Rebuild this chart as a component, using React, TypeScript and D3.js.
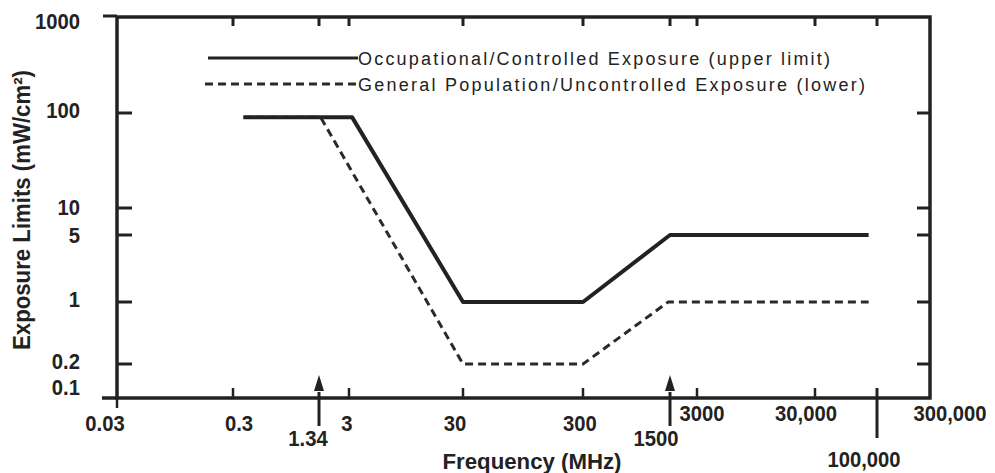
import React from "react";
import * as d3 from "d3";

// ---- data ----
const xTickValues = [0.03, 0.3, 1.34, 3, 30, 300, 1500, 3000, 30000, 100000, 300000];
const xTickLabels = ["0.03", "0.3", "1.34", "3", "30", "300", "1500", "3000", "30,000", "100,000", "300,000"];
const yTickValues = [0.1, 0.2, 1, 5, 10, 100, 1000];
const yTickLabels = ["0.1", "0.2", "1", "5", "10", "100", "1000"];

const occFreq = [0.36, 3.2, 30, 300, 1500, 85000];
const occLimit = [90, 90, 1, 1, 5, 5];
const genFreq = [0.36, 1.4, 30, 300, 1450, 85000];
const genLimit = [90, 90, 0.2, 0.2, 1, 1];

const legendLabels = [
  "Occupational/Controlled Exposure (upper limit)",
  "General Population/Uncontrolled Exposure (lower)",
];
const xTitle = "Frequency (MHz)";
const yTitle = "Exposure Limits (mW/cm²)";

const W = 995;
const H = 473;
const INK = "#222";
const FONT = "'Liberation Sans', Arial, sans-serif";

export default function App() {
  // axis as drawn in the picture (piecewise log, fitted to tick positions)
  const x = d3
    .scaleLog()
    .domain(xTickValues)
    .range([117, 233, 319, 349, 463, 583, 670, 697, 815, 877, 930]);
  const y = d3
    .scaleLog()
    .domain(yTickValues)
    .range([398, 364, 302, 235, 208, 113, 17]);

  const line = d3
    .line<[number, number]>()
    .x((d) => x(d[0]))
    .y((d) => y(d[1]));

  const occPts = occFreq.map((f, i) => [f, occLimit[i]] as [number, number]);
  const genPts = genFreq.map((f, i) => [f, genLimit[i]] as [number, number]);

  const left = x(xTickValues[0]);
  const right = x(xTickValues[xTickValues.length - 1]);
  const top = y(yTickValues[yTickValues.length - 1]);
  const bottom = y(yTickValues[0]);

  // label placement per x tick (row baseline + horizontal nudge)
  const xLabelPlace: Record<string, { dx: number; by: number }> = {
    "0.03": { dx: -12, by: 431 },
    "0.3": { dx: 6, by: 431 },
    "1.34": { dx: -11, by: 446 },
    "3": { dx: -2, by: 431 },
    "30": { dx: -8, by: 431 },
    "300": { dx: -3, by: 431 },
    "1500": { dx: -14, by: 446 },
    "3000": { dx: 5, by: 421 },
    "30,000": { dx: -9, by: 421 },
    "100,000": { dx: -13, by: 467 },
    "300,000": { dx: 20, by: 421 },
  };
  const yLabelNudge: Record<string, number> = {
    "1000": 4,
    "100": -3,
    "10": -1,
    "5": 0,
    "1": -3,
    "0.2": -3,
    "0.1": -11,
  };

  const innerBottomTicks = [0.3, 3, 30, 300, 3000, 30000];
  const topTicks = [0.3, 1.34, 3, 30, 300, 1500, 3000, 30000, 100000];
  const arrowTicks = [1.34, 1500];
  const sideTicks = [0.2, 1, 5, 10, 100];

  return (
    <svg
      width={W}
      height={H}
      viewBox={`0 0 ${W} ${H}`}
      style={{ position: "fixed", left: 0, top: 0, background: "#fff" }}
    >
      <rect x={0} y={0} width={W} height={H} fill="#fff" />

      {/* frame */}
      <rect
        x={left}
        y={top}
        width={right - left}
        height={bottom - top}
        fill="none"
        stroke={INK}
        strokeWidth={3.5}
      />
      {/* axis extensions at 1000 and 0.1 */}
      <line x1={left - 14} x2={left} y1={top - 1} y2={top - 1} stroke={INK} strokeWidth={3} />
      <line x1={left - 15} x2={left} y1={bottom} y2={bottom} stroke={INK} strokeWidth={3.5} />
      <line x1={left} x2={left} y1={bottom} y2={bottom + 10} stroke={INK} strokeWidth={2.5} />

      {/* top ticks */}
      {topTicks.map((v) => (
        <line key={"tt" + v} x1={x(v)} x2={x(v)} y1={top} y2={top + 9} stroke={INK} strokeWidth={3} />
      ))}
      {/* bottom inner ticks */}
      {innerBottomTicks.map((v) => (
        <line key={"bt" + v} x1={x(v)} x2={x(v)} y1={bottom - 10} y2={bottom} stroke={INK} strokeWidth={2.5} />
      ))}
      {/* 100,000 long tick */}
      <line x1={x(100000)} x2={x(100000)} y1={bottom - 10} y2={bottom + 40} stroke={INK} strokeWidth={3} />
      {/* arrows */}
      {arrowTicks.map((v) => (
        <g key={"ar" + v}>
          <line x1={x(v)} x2={x(v)} y1={bottom - 6} y2={bottom + 28} stroke={INK} strokeWidth={3} />
          <path
            d={`M${x(v)},${bottom - 23} L${x(v) - 5},${bottom - 7} L${x(v) + 5},${bottom - 7} Z`}
            fill={INK}
          />
        </g>
      ))}
      {/* left and right y ticks */}
      {sideTicks.map((v) => (
        <g key={"yt" + v}>
          <line x1={left} x2={left + 15} y1={y(v)} y2={y(v)} stroke={INK} strokeWidth={3} />
          <line x1={right - 13} x2={right} y1={y(v)} y2={y(v)} stroke={INK} strokeWidth={3} />
        </g>
      ))}

      {/* series */}
      <path d={line(genPts) || ""} fill="none" stroke="#2a2a2a" strokeWidth={3} strokeDasharray="8,5" />
      <path d={line(occPts) || ""} fill="none" stroke="#222" strokeWidth={4} strokeLinejoin="round" />

      {/* y tick labels */}
      {yTickValues.map((v, i) => (
        <text
          key={"yl" + v}
          transform={`translate(80,${y(v) + yLabelNudge[yTickLabels[i]] + 8}) scale(0.92,1)`}
          textAnchor="end"
          fontFamily={FONT}
          fontWeight="bold"
          fontSize={22}
          fill={INK}
        >
          {yTickLabels[i]}
        </text>
      ))}

      {/* x tick labels */}
      {xTickValues.map((v, i) => {
        const p = xLabelPlace[xTickLabels[i]];
        return (
          <text
            key={"xl" + v}
            transform={`translate(${x(v) + p.dx},${p.by}) scale(0.92,1)`}
            textAnchor="middle"
            fontFamily={FONT}
            fontWeight="bold"
            fontSize={22}
            fill={INK}
          >
            {xTickLabels[i]}
          </text>
        );
      })}

      {/* axis titles */}
      <text
        x={532}
        y={469}
        textAnchor="middle"
        fontFamily={FONT}
        fontWeight="bold"
        fontSize={22}
        fill={INK}
        textLength={179}
        lengthAdjust="spacingAndGlyphs"
      >
        {xTitle}
      </text>
      <text
        transform="translate(30,210) rotate(-90)"
        textAnchor="middle"
        fontFamily={FONT}
        fontWeight="bold"
        fontSize={23}
        fill={INK}
        textLength={280}
        lengthAdjust="spacingAndGlyphs"
      >
        {yTitle}
      </text>

      {/* legend */}
      <line x1={208} x2={358} y1={58} y2={58} stroke="#222" strokeWidth={3} />
      <line x1={205} x2={358} y1={84} y2={84} stroke="#2a2a2a" strokeWidth={3} strokeDasharray="8,5" />
      <text
        x={358}
        y={65}
        fontFamily={FONT}
        fontSize={18}
        fill={INK}
        textLength={472}
        lengthAdjust="spacing"
      >
        {legendLabels[0]}
      </text>
      <text
        x={358}
        y={91}
        fontFamily={FONT}
        fontSize={18}
        fill={INK}
        textLength={507}
        lengthAdjust="spacing"
      >
        {legendLabels[1]}
      </text>
    </svg>
  );
}
